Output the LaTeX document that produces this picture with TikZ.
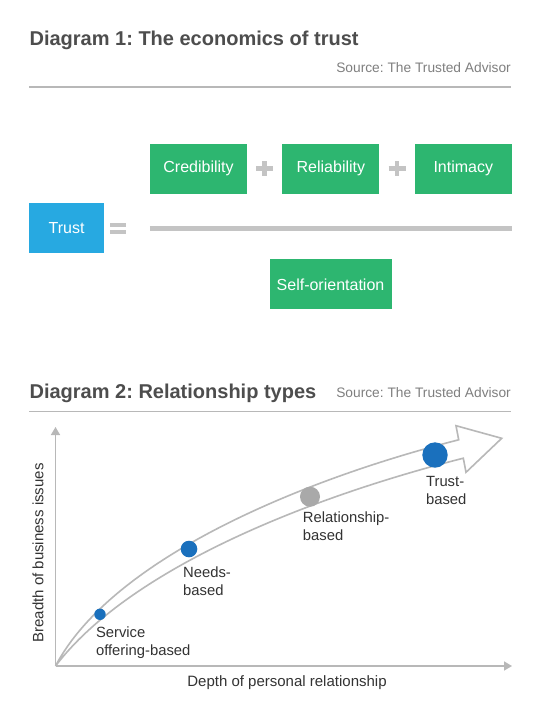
\documentclass[tikz,border=0pt]{standalone}
\usepackage{fontspec}
\setmainfont{Liberation Sans}
\usetikzlibrary{
	arrows.meta,
	positioning,
	calc
}
\frenchspacing
\definecolor{trustgreen}{HTML}{2DB670}
\definecolor{trustblue}{HTML}{27A9E1}
\definecolor{dotblue}{HTML}{1A70BD}
\definecolor{dotgrey}{HTML}{A9A9A9}
\definecolor{titlegrey}{HTML}{4D4D4D}
\definecolor{sourcegrey}{HTML}{7F7F7F}
\definecolor{textgrey}{HTML}{333333}
\definecolor{rulegrey}{HTML}{B8B8B8}
\definecolor{signgrey}{HTML}{C4C4C4}

\begin{document}
\begin{tikzpicture}[
    x=1pt, y=-1pt,
    node distance=35pt and 35pt,
    title/.style={anchor=base west, inner sep=0pt, text=titlegrey, font=\fontsize{20}{24}\selectfont\bfseries},
    source/.style={anchor=base east, inner sep=0pt, text=sourcegrey, font=\fontsize{13.75}{16}\selectfont},
    hrule/.style={draw=rulegrey, line width=1.2pt},
    box/.style={rectangle, fill=trustgreen, text=white, minimum width=97pt, minimum height=50pt, inner sep=0pt, font=\fontsize{16}{19}\selectfont},
    sign/.style={draw=signgrey, line width=4.5pt},
    axis/.style={draw=rulegrey, line width=1.5pt, -{Triangle[length=8pt, width=9pt]}},
    band/.style={draw=rulegrey, line width=1.6pt, line join=miter},
    dot/.style={circle, inner sep=0pt, fill=dotblue},
    stage/.style={inner sep=0pt, align=left, text=textgrey, font=\fontsize{14.8}{18}\selectfont},
    axislabel/.style={inner sep=0pt, text=textgrey, font=\fontsize{15}{18}\selectfont}
]
\useasboundingbox[fill=white] (0,0) rectangle (540,720);

% diagram 1
\node[title] (title1) at (29.4,45) {Diagram 1: The economics of trust};
\node[source] (source1) at (511,72.7) {Source: The Trusted Advisor};
\draw[hrule] (29.4,87) -- (511,87);

\node[box, fill=trustblue, minimum width=74.4pt] (trust) at (66.6,228.3) {Trust};
\node[box] (cred) at (198.5,168.7) {Credibility};
\node[box, right=of cred] (rel) {Reliability};
\node[box, right=of rel] (intim) {Intimacy};
\node[box, minimum width=122pt] (self) at (330.5,284.3) {Self-orientation};

\draw[sign, line width=5pt] (cred.west |- trust) -- (intim.east |- trust);
\foreach \a/\b in {cred/rel, rel/intim}
    \draw[sign] ($(\a.east)!0.5!(\b.west)$) +(-8.5,0) -- +(8.5,0) +(0,-7.5) -- +(0,7.5);
\draw[sign, line width=4pt] ($(trust.east)+(6,-3.5)$) -- +(16,0) ($(trust.east)+(6,3.5)$) -- +(16,0);

% diagram 2
\node[title] (title2) at (29.4,398) {Diagram 2: Relationship types};
\node[source] (source2) at (511,397) {Source: The Trusted Advisor};
\draw[hrule] (29.4,411.7) -- (511,411.7);

\coordinate (o) at (55.5,666);
\coordinate (ytip) at (55.5,427);
\coordinate (xtip) at (512,666);
\draw[axis] (o) -- (ytip);
\draw[axis] (o) -- (xtip);
\node[axislabel, anchor=base] (xlabel) at (287,686.5) {Depth of personal relationship};
\node[axislabel, rotate=90, anchor=base] (ylabel) at (43.3,553) {Breadth of business issues};

% hollow arrow
\draw[band] (o) .. controls (111.5,559.6) and (297.7,480.8) .. (458.7,439.8)
    -- (456,425.7) -- (501.7,438.3) -- (466,472.3) -- (463.3,458.2)
    .. controls (302.3,499.2) and (128.5,570.4) .. (o);

\node[dot, minimum size=11.4pt] (sdot) at (100,614.3) {};
\node[dot, minimum size=16.6pt] (ndot) at (189,549) {};
\node[dot, fill=dotgrey, minimum size=20pt] (rdot) at (310,496.7) {};
\node[dot, minimum size=25.4pt] (tdot) at (435,455) {};

\node[stage, below=8pt of sdot.south west, anchor=north west] (slabel) {Service\\offering-based};
\node[stage, below=11.5pt of ndot.south west, anchor=north west] (nlabel) {Needs-\\based};
\node[stage, below=7.5pt of rdot.south west, anchor=north west] (rlabel) {Relationship-\\based};
\node[stage, below=12pt of tdot.south west, anchor=north west] (tlabel) {Trust-\\based};
\end{tikzpicture}
\end{document}
